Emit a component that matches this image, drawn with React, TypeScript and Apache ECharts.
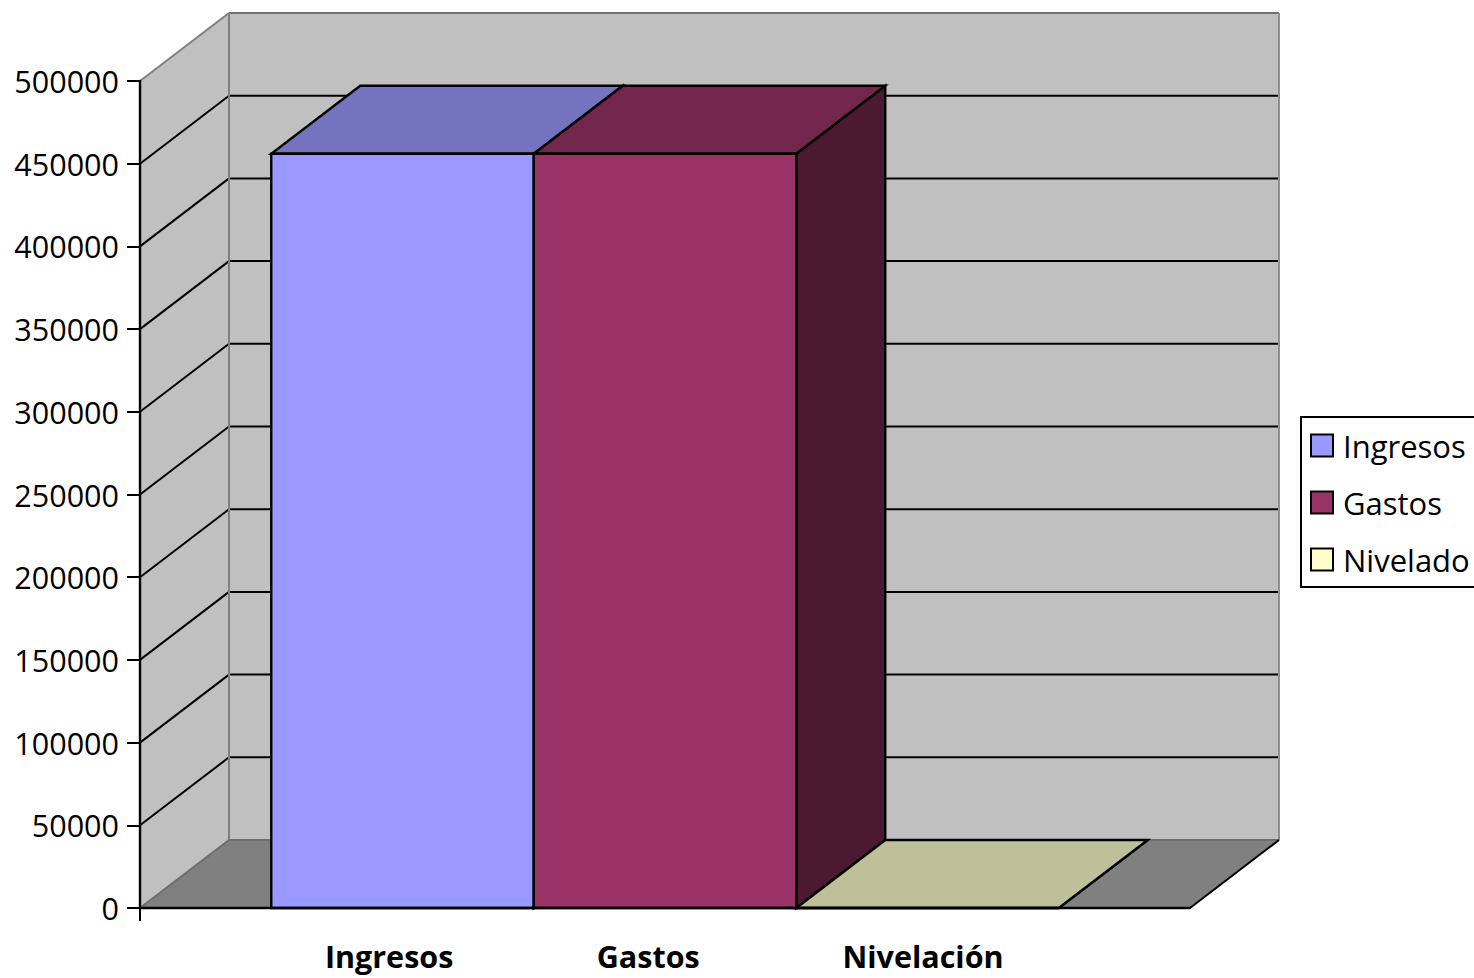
import React, { useEffect, useRef } from "react";
import * as echarts from "echarts";

const yMax = 500000;
const yStep = 50000;
const gridValues = [50000, 100000, 150000, 200000, 250000, 300000, 350000, 400000, 450000];
const seriesNames = ["Ingresos", "Gastos", "Nivelado"];
const seriesValues = [456000, 456000, 0];
const frontColors = ["#9999FF", "#993366", "#FFFFCC"];
const topColors = ["#7373BF", "#73264C", "#BFBF99"];
const sideColors = ["#4C4C80", "#4C1933", "#80805F"];
const categoryLabels = ["Ingresos", "Gastos", "Nivelación"];
const categoryLabelPositions = [0.949, 1.936, 2.983];

const DX = 89;
const DY = -68;
const FONT = "'Open Sans', 'Noto Sans', sans-serif";

const poly = (points: number[][], fill: string, stroke?: string, lineWidth = 2, z2 = 0) => ({
  type: "polygon",
  z2,
  shape: { points },
  style: { fill, stroke: stroke ?? "none", lineWidth, lineJoin: "miter" },
});
const seg = (a: number[], b: number[], stroke: string, lineWidth = 2, z2 = 1) => ({
  type: "line",
  z2,
  shape: { x1: a[0], y1: a[1], x2: b[0], y2: b[1] },
  style: { stroke, lineWidth },
});
const back = (p: number[]) => [p[0] + DX, p[1] + DY];

const renderWalls = (_params: any, api: any) => {
  const bl = api.coord([0, 0]);
  const tl = api.coord([0, yMax]);
  const br = api.coord([4, 0]);
  const children: any[] = [
    poly([tl, bl, back(bl), back(tl)], "#C0C0C0"),
    poly([back(tl), back(bl), back(br), [br[0] + DX, tl[1] + DY]], "#C0C0C0"),
    poly([bl, back(bl), back(br), br], "#808080"),
  ];
  gridValues.forEach((v) => {
    const l = api.coord([0, v]);
    const r = api.coord([4, v]);
    children.push(seg(l, back(l), "#000", 2));
    children.push(seg(back(l), back(r), "#000", 2));
  });
  const tr = [br[0], tl[1]];
  children.push(seg(tl, back(tl), "#808080", 2, 2));
  children.push(seg(back(tl), back(tr), "#707070", 2, 2));
  children.push(seg(back(tl), back(bl), "#808080", 2, 2));
  children.push(seg(back(tr), back(br), "#909090", 2, 2));
  children.push(seg(bl, back(bl), "#6e6e6e", 2, 2));
  children.push(seg(back(bl), back(br), "#6e6e6e", 2, 2));
  children.push(seg(br, back(br), "#000", 2, 3));
  return { type: "group", children };
};

const renderBar = (idx: number) => (_params: any, api: any) => {
  const value = api.value(1);
  const x0 = api.value(0);
  const b0 = api.coord([x0, 0]);
  const b1 = api.coord([x0 + 1, 0]);
  const t0 = api.coord([x0, value]);
  const t1 = api.coord([x0 + 1, value]);
  const edge = "#000";
  return {
    type: "group",
    children: [
      poly([b1, t1, back(t1), back(b1)], sideColors[idx], edge, 2.4, 1),
      poly([t0, t1, back(t1), back(t0)], topColors[idx], edge, 2.4, 2),
      poly([b0, t0, t1, b1], frontColors[idx], edge, 2.4, 3),
    ],
  };
};

export default function App() {
  const ref = useRef<HTMLDivElement>(null);
  useEffect(() => {
    const chart = echarts.init(ref.current!, undefined, { renderer: "svg" });
    chart.setOption({
      animation: false,
      backgroundColor: "#fff",
      grid: { left: 140, top: 81, width: 1050, height: 827 },
      legend: {
        left: 1301,
        top: 417,
        orient: "vertical",
        padding: [13, 10, 12, 9],
        itemWidth: 22,
        itemHeight: 22,
        itemGap: 26,
        borderColor: "#000",
        borderWidth: 2,
        backgroundColor: "#fff",
        selectedMode: false,
        textStyle: { fontFamily: FONT, fontSize: 31, color: "#000", padding: [2, 0, 0, 5] },
        data: seriesNames.map((name, i) => ({
          name,
          icon: "rect",
          itemStyle: { color: frontColors[i], borderColor: "#000", borderWidth: 2 },
        })),
      },
      xAxis: {
        type: "value",
        min: 0,
        max: 4,
        z: 8,
        splitLine: { show: false },
        axisLine: { show: true, lineStyle: { color: "#000", width: 2.4 } },
        axisTick: { show: true, length: 13, customValues: [0], lineStyle: { color: "#000", width: 2 } },
        axisLabel: {
          show: true,
          customValues: categoryLabelPositions,
          margin: 32,
          hideOverlap: false,
          showMinLabel: true,
          showMaxLabel: true,
          fontFamily: FONT,
          fontSize: 30.5,
          fontWeight: "bold",
          color: "#000",
          formatter: (v: number) => categoryLabels[categoryLabelPositions.indexOf(v)] ?? "",
        },
      },
      yAxis: {
        type: "value",
        min: 0,
        max: yMax,
        interval: yStep,
        z: 8,
        splitLine: { show: false },
        axisLine: { show: true, lineStyle: { color: "#000", width: 2.4 } },
        axisTick: { show: true, length: 13, lineStyle: { color: "#000", width: 2 } },
        axisLabel: {
          margin: 21,
          fontFamily: FONT,
          fontSize: 30.5,
          color: "#000",
          padding: [0, 0, 2, 0],
          formatter: (v: number) => String(v),
        },
      },
      series: [
        {
          type: "custom",
          name: "walls",
          silent: true,
          z: 1,
          renderItem: renderWalls,
          data: [[0, 0]],
          encode: { x: 0, y: 1 },
        },
        ...seriesNames.map((name, i) => ({
          type: "custom",
          name,
          silent: true,
          z: 2 + i,
          itemStyle: { color: frontColors[i] },
          renderItem: renderBar(i),
          data: [[i + 0.5, seriesValues[i]]],
          encode: { x: 0, y: 1 },
        })),
      ],
    });
    return () => chart.dispose();
  }, []);
  return <div ref={ref} style={{ position: "fixed", left: 0, top: 0, width: 1474, height: 978 }} />;
}
